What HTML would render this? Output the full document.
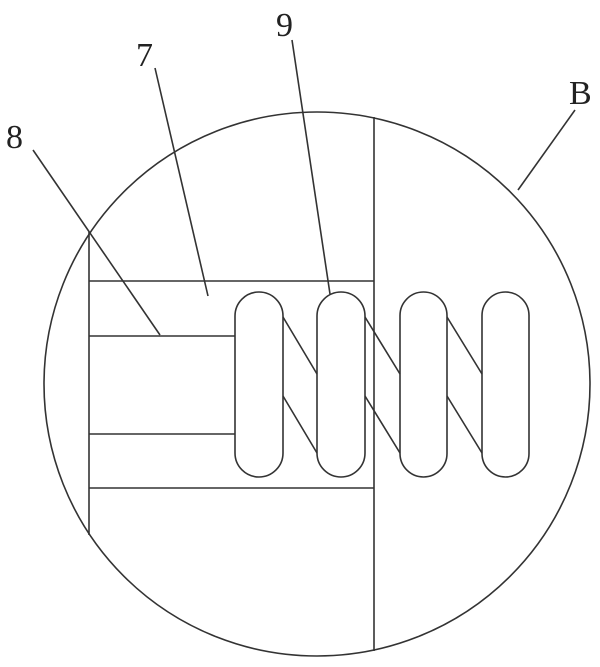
<!DOCTYPE html>
<html><head><style>body{margin:0;background:#fff}svg{display:block}</style></head><body>
<svg width="600" height="667" viewBox="0 0 600 667" xmlns="http://www.w3.org/2000/svg">
<g fill="none" stroke="#333" stroke-width="1.6">
<ellipse cx="317" cy="384" rx="273" ry="272"/>
<line x1="374" y1="117" x2="374" y2="651"/>
<line x1="89" y1="232" x2="89" y2="535"/>
<line x1="89" y1="281" x2="374" y2="281"/>
<line x1="89" y1="488" x2="374" y2="488"/>
<line x1="89" y1="336" x2="235" y2="336"/>
<line x1="89" y1="434" x2="235" y2="434"/>
<g fill="#fff">
<rect x="235" y="292" width="48" height="185" rx="24"/>
<rect x="317" y="292" width="48" height="185" rx="24"/>
<rect x="400" y="292" width="47" height="185" rx="23.5"/>
<rect x="482" y="292" width="47" height="185" rx="23.5"/>
</g>
<path d="M283 317L317 374M283 396L317 453M365 317L400 374M365 396L400 453M447 317L482 374M447 396L482 453"/>
<line x1="33" y1="150" x2="160" y2="335"/>
<line x1="155" y1="68" x2="208" y2="296"/>
<line x1="292" y1="40" x2="330" y2="294"/>
<line x1="575" y1="110" x2="518" y2="190"/>
</g>
<g font-family="Liberation Serif, serif" font-size="34" fill="#222">
<text x="6" y="148">8</text>
<text x="136" y="66">7</text>
<text x="276" y="36">9</text>
<text x="569" y="104">B</text>
</g>
</svg>
</body></html>
